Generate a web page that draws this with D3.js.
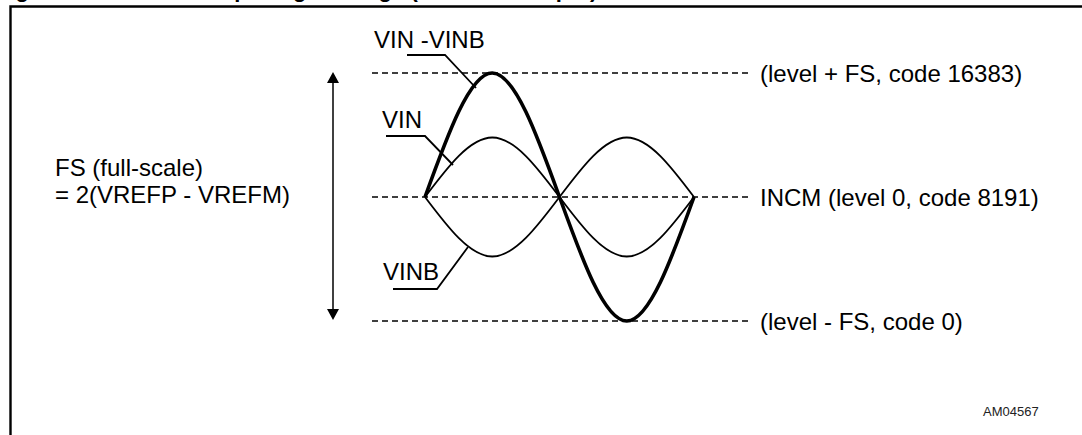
<!DOCTYPE html>
<html>
<head>
<meta charset="utf-8">
<script src="https://cdn.jsdelivr.net/npm/d3@7"></script>
<style>
  html, body { margin: 0; padding: 0; background: #fff; }
  svg { display: block; font-family: "Liberation Sans", Arial, sans-serif; }
</style>
</head>
<body>
<div id="chart"></div>
<script>
// One period of the input, sampled at quarter periods (values in units of FS)
const phase = [0, 0.25, 0.5, 0.75, 1];
const vin = [0, 0.48, 0, -0.48, 0];
const vinb = [0, -0.48, 0, 0.48, 0];
const vdiff = [0, 1, 0, -1, 0];

// Reference levels and their labels
const levels = [1, 0, -1];
const levelLabels = ["(level + FS, code 16383)", "INCM (level 0, code 8191)", "(level - FS, code 0)"];

const width = 1082;
const height = 435;
const fontSize = 24;

const svg = d3.select("#chart").append("svg").attr("width", width).attr("height", height);

const x = d3.scaleLinear().domain([0, 1]).range([425, 694]);
const y = d3.scaleLinear().domain([-1, 1]).range([321, 73]);

// Title (cropped off at the top of the picture)
svg.append("text")
  .attr("x", -4)
  .attr("y", -3)
  .attr("font-size", 22)
  .attr("font-weight", "bold")
  .text("Figure 5. Differential input signal range (differential input)");

// Frame
svg.append("path")
  .attr("d", `M10.5,${height} V6.5 H${width}`)
  .attr("fill", "none")
  .attr("stroke", "#000")
  .attr("stroke-width", 2.4);

// Dashed level lines and labels
svg.selectAll(".level")
  .data(levels)
  .enter()
  .append("line")
  .attr("class", "level")
  .attr("x1", 372)
  .attr("x2", 750)
  .attr("y1", (d) => y(d))
  .attr("y2", (d) => y(d))
  .attr("stroke", "#000")
  .attr("stroke-width", 1.3)
  .attr("stroke-dasharray", "6,4");

svg.selectAll(".level-label")
  .data(levels)
  .enter()
  .append("text")
  .attr("class", "level-label")
  .attr("x", 760)
  .attr("y", (d) => y(d) + 9)
  .attr("font-size", fontSize)
  .text((d, i) => levelLabels[i]);

// Waveforms
const line = (vals) => d3.line()
  .x((d, i) => x(phase[i]))
  .y((d) => y(d))
  .curve(d3.curveNatural)(vals);

svg.append("path").attr("d", line(vin)).attr("fill", "none").attr("stroke", "#000").attr("stroke-width", 1.8);
svg.append("path").attr("d", line(vinb)).attr("fill", "none").attr("stroke", "#000").attr("stroke-width", 1.8);
svg.append("path").attr("d", line(vdiff)).attr("fill", "none").attr("stroke", "#000").attr("stroke-width", 3.6);

// Curve labels with leader lines
const labels = [
  { text: "VIN -VINB", tx: 374, ty: 48, pts: [[407, 55], [445, 55], [476, 88]] },
  { text: "VIN", tx: 382, ty: 128, pts: [[386, 136], [425, 136], [453, 165]] },
  { text: "VINB", tx: 383, ty: 280, pts: [[393, 289], [437, 289], [468, 247]] }
];

svg.selectAll(".curve-label")
  .data(labels)
  .enter()
  .append("text")
  .attr("class", "curve-label")
  .attr("x", (d) => d.tx)
  .attr("y", (d) => d.ty)
  .attr("font-size", fontSize)
  .text((d) => d.text);

svg.selectAll(".leader")
  .data(labels)
  .enter()
  .append("path")
  .attr("class", "leader")
  .attr("d", (d) => d3.line()(d.pts))
  .attr("fill", "none")
  .attr("stroke", "#000")
  .attr("stroke-width", 1.8);

// Full-scale arrow
const ax = 333;
svg.append("line")
  .attr("x1", ax).attr("x2", ax)
  .attr("y1", y(1) + 8).attr("y2", y(-1) - 8)
  .attr("stroke", "#000")
  .attr("stroke-width", 1.5);
svg.append("path")
  .attr("d", `M${ax},${y(1) - 1} l-6,11 h12 z M${ax},${y(-1) - 1} l-6,-11 h12 z`)
  .attr("fill", "#000");

svg.append("text").attr("x", 55).attr("y", 176).attr("font-size", fontSize).text("FS (full-scale)");
svg.append("text").attr("x", 55).attr("y", 203).attr("font-size", fontSize).text("= 2(VREFP - VREFM)");

// Drawing reference
svg.append("text")
  .attr("x", 983)
  .attr("y", 416)
  .attr("font-size", 13)
  .attr("fill", "#222")
  .text("AM04567");
</script>
</body>
</html>
